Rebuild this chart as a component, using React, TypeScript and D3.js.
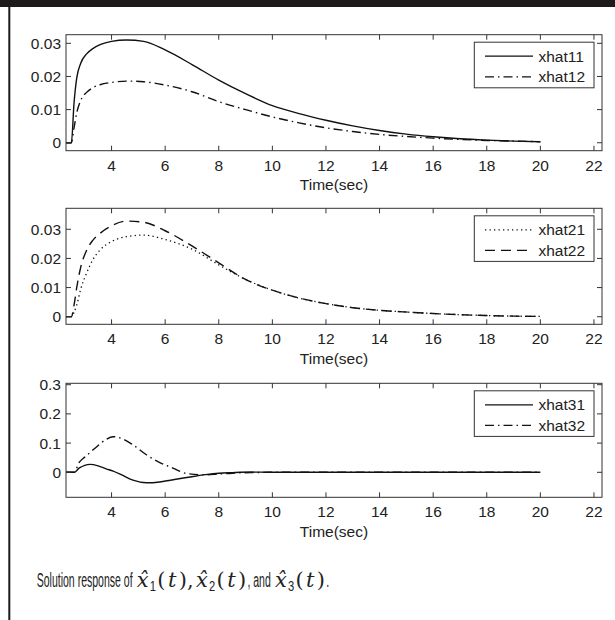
import { useEffect, useRef } from "react";
import * as d3 from "d3";

// time grid used for panels 1 and 2
const T12 = [2.3, 2.5, 2.6, 2.7, 2.85, 3.07, 3.3, 3.57, 4.0, 4.56, 5.2, 6.0, 7.0, 8.0, 9.0, 10.0, 11.0, 12.0, 13.0, 14.0, 15.0, 16.0, 17.0, 18.0, 19.0, 20.0];
const XHAT11 = [0, 0, 0.012, 0.0195, 0.024, 0.0268, 0.0284, 0.0296, 0.0306, 0.031, 0.0306, 0.028, 0.0236, 0.0189, 0.0148, 0.0112, 0.0088, 0.0068, 0.0051, 0.0037, 0.0026, 0.0018, 0.0012, 0.0008, 0.0005, 0.0003];
const XHAT12 = [0, 0, 0.0045, 0.009, 0.0128, 0.0152, 0.0166, 0.0175, 0.0182, 0.0186, 0.0184, 0.0174, 0.0154, 0.0124, 0.01, 0.0078, 0.006, 0.0045, 0.0034, 0.0025, 0.0019, 0.0014, 0.001, 0.0007, 0.0005, 0.0003];
const XHAT21 = [0, 0, 0.0015, 0.004, 0.0095, 0.015, 0.0195, 0.0229, 0.0258, 0.0275, 0.028, 0.0265, 0.0232, 0.0178, 0.0128, 0.0091, 0.0064, 0.0045, 0.0031, 0.0022, 0.0016, 0.0011, 0.0007, 0.0004, 0.0002, 0.0001];
const XHAT22 = [0, 0, 0.004, 0.01, 0.017, 0.0228, 0.0262, 0.0286, 0.0312, 0.0328, 0.0324, 0.0295, 0.0243, 0.0185, 0.0128, 0.0091, 0.0064, 0.0045, 0.0031, 0.0022, 0.0016, 0.0011, 0.0007, 0.0004, 0.0002, 0.0001];

// time grid for panel 3
const T3 = [2.3, 2.6, 2.8, 3.0, 3.2, 3.5, 3.8, 4.06, 4.4, 4.8, 5.3, 5.8, 6.2, 6.8, 7.5, 8.0, 8.5, 9.2, 10, 12, 14, 16, 18, 20];
const XHAT31 = [0, 0, 0.015, 0.024, 0.027, 0.022, 0.012, 0.004, -0.01, -0.027, -0.036, -0.033, -0.027, -0.018, -0.008, -0.003, -0.001, 0.0008, 0.0004, 0, 0, 0, 0, 0];
const XHAT32 = [0, 0, 0.035, 0.052, 0.068, 0.092, 0.113, 0.122, 0.115, 0.094, 0.06, 0.033, 0.018, -0.004, -0.009, -0.006, -0.003, -0.001, 0, 0, 0, 0, 0, 0];

const X_TICKS = [4, 6, 8, 10, 12, 14, 16, 18, 20, 22];
const Y_TICKS_SMALL = [0, 0.01, 0.02, 0.03];
const Y_TICKS_BIG = [0, 0.1, 0.2, 0.3];

const DASH = { solid: null, dashdot: "9,4,1.5,4", dotted: "1.3,3.2", dashed: "10,6" };

const PANELS = [
  {
    top: 34.7, bottom: 150.7, yDomain: [-0.0024, 0.0326], yTicks: Y_TICKS_SMALL, t: T12,
    series: [
      { name: "xhat11", values: XHAT11, dash: DASH.solid },
      { name: "xhat12", values: XHAT12, dash: DASH.dashdot },
    ],
  },
  {
    top: 208.3, bottom: 324.3, yDomain: [-0.0026, 0.0372], yTicks: Y_TICKS_SMALL, t: T12,
    series: [
      { name: "xhat21", values: XHAT21, dash: DASH.dotted },
      { name: "xhat22", values: XHAT22, dash: DASH.dashed },
    ],
  },
  {
    top: 383.3, bottom: 497.3, yDomain: [-0.0856, 0.3048], yTicks: Y_TICKS_BIG, t: T3,
    series: [
      { name: "xhat31", values: XHAT31, dash: DASH.solid },
      { name: "xhat32", values: XHAT32, dash: DASH.dashdot },
    ],
  },
];

// caption pieces: [text, kind]
const CAPTION: [string, string][] = [
  ["Solution response of ", "sans"],
  ["x\u0302", "mi"], ["1", "sub"], ["(", "mr"], ["t", "mi"], ["),", "mr"],
  ["x\u0302", "mi"], ["2", "sub"], ["(", "mr"], ["t", "mi"], [")", "mr"],
  [", and ", "sans"],
  ["x\u0302", "mi"], ["3", "sub"], ["(", "mr"], ["t", "mi"], [")", "mr"],
  [".", "sans"],
];

const LEFT = 66;
const RIGHT = 602;
const FONT = "'Liberation Sans', Arial, Helvetica, sans-serif";
const SERIF = "'DejaVu Serif', 'Liberation Serif', serif";
const AXIS_COLOR = "#333";
const LINE_COLOR = "#111";

export default function App() {
  const svgRef = useRef<SVGSVGElement>(null);

  useEffect(() => {
    const svg = d3.select(svgRef.current);
    svg.selectAll("*").remove();

    // page frame: black band on top, rule down the left
    svg.append("rect").attr("x", 0).attr("y", 0).attr("width", 615).attr("height", 7).attr("fill", "#1c1a1a");
    svg.append("rect").attr("x", 8.3).attr("y", 0).attr("width", 2).attr("height", 620).attr("fill", "#1c1a1a");

    const x = d3.scaleLinear().domain([2.3, 22.3]).range([LEFT, RIGHT]);

    PANELS.forEach((p) => {
      const y = d3.scaleLinear().domain(p.yDomain).range([p.bottom, p.top]);
      const g = svg.append("g");

      p.series.forEach((s) => {
        const line = d3
          .line<number>()
          .x((_, i) => x(p.t[i]))
          .y((d) => y(d))
          .curve(d3.curveMonotoneX);
        g.append("path")
          .attr("d", line(s.values))
          .attr("fill", "none")
          .attr("stroke", LINE_COLOR)
          .attr("stroke-width", s.dash === DASH.dotted ? 1.3 : 1.4)
          .attr("stroke-dasharray", s.dash);
      });

      g.append("rect")
        .attr("x", LEFT)
        .attr("y", p.top)
        .attr("width", RIGHT - LEFT)
        .attr("height", p.bottom - p.top)
        .attr("fill", "none")
        .attr("stroke", AXIS_COLOR)
        .attr("stroke-width", 1);

      // inward ticks on all four sides
      X_TICKS.forEach((v) => {
        const xx = x(v);
        g.append("line").attr("x1", xx).attr("x2", xx).attr("y1", p.bottom).attr("y2", p.bottom - 5).attr("stroke", AXIS_COLOR);
        g.append("line").attr("x1", xx).attr("x2", xx).attr("y1", p.top).attr("y2", p.top + 5).attr("stroke", AXIS_COLOR);
        g.append("text")
          .attr("x", xx)
          .attr("y", p.bottom + 20)
          .attr("text-anchor", "middle")
          .attr("font-family", FONT)
          .attr("font-size", 15.5)
          .attr("fill", "#222")
          .text(v);
      });
      p.yTicks.forEach((v) => {
        const yy = y(v);
        g.append("line").attr("x1", LEFT).attr("x2", LEFT + 5).attr("y1", yy).attr("y2", yy).attr("stroke", AXIS_COLOR);
        g.append("line").attr("x1", RIGHT).attr("x2", RIGHT - 5).attr("y1", yy).attr("y2", yy).attr("stroke", AXIS_COLOR);
        g.append("text")
          .attr("x", LEFT - 5)
          .attr("y", yy + 5.5)
          .attr("text-anchor", "end")
          .attr("font-family", FONT)
          .attr("font-size", 15.5)
          .attr("fill", "#222")
          .text(v);
      });

      g.append("text")
        .attr("x", (LEFT + RIGHT) / 2)
        .attr("y", p.bottom + 39.5)
        .attr("text-anchor", "middle")
        .attr("font-family", FONT)
        .attr("font-size", 15.5)
        .attr("fill", "#222")
        .text("Time(sec)");

      // legend
      const lx = 474.3;
      const ly = p.top + 7.5;
      g.append("rect")
        .attr("x", lx)
        .attr("y", ly)
        .attr("width", 119.7)
        .attr("height", 45.6)
        .attr("fill", "#fff")
        .attr("stroke", AXIS_COLOR)
        .attr("stroke-width", 1);
      p.series.forEach((s, i) => {
        const ry = ly + 14 + i * 20.6;
        g.append("line")
          .attr("x1", 485)
          .attr("x2", 533)
          .attr("y1", ry)
          .attr("y2", ry)
          .attr("stroke", LINE_COLOR)
          .attr("stroke-width", 1.3)
          .attr("stroke-dasharray", s.dash);
        g.append("text")
          .attr("x", 538.5)
          .attr("y", ry + 5.5)
          .attr("font-family", FONT)
          .attr("font-size", 15.5)
          .attr("fill", "#222")
          .text(s.name);
      });
    });

    // caption: condensed sans, math in serif italic
    const capG = svg.append("g");
    const startX = 36.7;
    const endX = 343;
    const base = 587;
    const items = CAPTION.map(([txt, kind]) => {
      const sans = kind === "sans" || kind === "sub";
      const sx = kind === "sans" ? 0.54 : kind === "sub" ? 0.8 : 1;
      const t = capG
        .append("text")
        .attr("font-family", sans ? FONT : SERIF)
        .attr("font-size", kind === "sub" ? 14 : kind === "sans" ? 19.5 : 21)
        .attr("font-style", kind === "mi" ? "italic" : "normal")
        .attr("fill", "#222")
        .style("white-space", "pre")
        .text(txt);
      const w = (t.node() as SVGTextElement).getComputedTextLength() * sx;
      return { t, kind, sx, w };
    });
    const mathCount = items.filter((d) => d.kind === "mi" || d.kind === "mr").length;
    const total = d3.sum(items, (d) => d.w);
    const gap = Math.min(1.2, Math.max(0, (endX - startX - total) / (mathCount * 2)));
    let cx = startX;
    items.forEach((d) => {
      const isMath = d.kind === "mi" || d.kind === "mr";
      const pad = isMath ? gap : 0;
      d.t.attr(
        "transform",
        `translate(${cx + pad},${base + (d.kind === "sub" ? 4 : 0)}) scale(${d.sx},1)`
      );
      cx += d.w + pad * 2;
    });
  }, []);

  return (
    <svg
      ref={svgRef}
      width={615}
      height={620}
      style={{ position: "absolute", left: 0, top: 0, background: "#fff" }}
    />
  );
}
